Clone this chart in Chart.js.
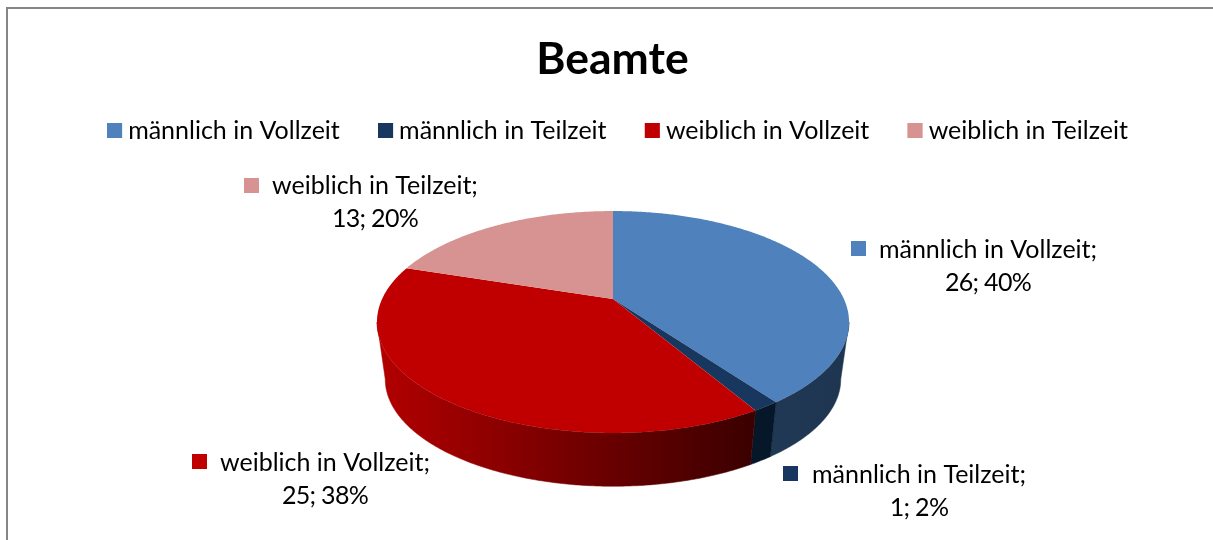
<!DOCTYPE html>
<html>
<head>
<meta charset="utf-8">
<title>Beamte</title>
<script src="https://cdn.jsdelivr.net/npm/chart.js@4"></script>
<style>
html,body{margin:0;padding:0;background:#fff;overflow:hidden}
canvas{display:block}
</style>
</head>
<body>
<canvas id="pie" width="1213" height="540"></canvas>
<script>
const categories = ["männlich in Vollzeit","männlich in Teilzeit","weiblich in Vollzeit","weiblich in Teilzeit"];
const values = [26,1,25,13];
const percents = ["40%","2%","38%","20%"];
const colors = ["#4f81bd","#17375e","#c00000","#d69391"];

// Seitenwand: Farbe links / rechts
const wallLeft = ["#24405f","#06172a","#b00000","#785050"];
const wallRight = ["#1e3550","#06172a","#3c0000","#785050"];

// Beschriftung: Quadrat links, Textmitte, y der ersten Zeile
const labelPos = [
  {key:851,keyY:241,cx:988,y:250},
  {key:783,keyY:466,cx:919,y:475},
  {key:192,keyY:454,cx:325,y:463},
  {key:244,keyY:178,cx:375,y:186}
];

const FONT = "Lato";
const LABEL_SIZE = 25;

// Perspektive der Scheibe
const cx = 613, cy = 299;
const A = 106.2, B = 230.9, K = 0.2072;
const DEPTH = 58, SHRINK = 0.965;
const FRONT_FROM = 102*Math.PI/180, FRONT_TO = 258*Math.PI/180;

function top3d(t){
  let u = Math.sin(t), d = -Math.cos(t), w = 1 - K*d;
  return [cx + B*u/w, cy + A*d/w];
}
function bottom3d(t){
  let p = top3d(t);
  return [cx + (p[0]-cx)*SHRINK, cy + (p[1]-cy)*SHRINK + DEPTH];
}

const pie3d = {
  id:"pie3d",
  afterLayout(chart){
    // Titel und Legende sitzen im Original nicht auf der Mitte
    chart.titleBlock.left += 6;
    chart.titleBlock.right += 6;
    chart.legend.left += 11;
    chart.legend.right += 11;
    chart.legend.top = 79.7;
  },
  beforeDatasetDraw(chart){
    const ctx = chart.ctx;
    const arcs = chart.getDatasetMeta(0).data;
    const step = Math.PI/360;

    // Seitenwände, nur die sichtbare Vorderseite
    arcs.forEach((arc,i)=>{
      let a0 = Math.max(arc.startAngle + Math.PI/2, FRONT_FROM);
      let a1 = Math.min(arc.endAngle + Math.PI/2, FRONT_TO);
      if(a1<=a0) return;
      let g = ctx.createLinearGradient(i==2?385:613,0,i==2?750:849,0);
      g.addColorStop(0,wallLeft[i]);
      g.addColorStop(1,wallRight[i]);
      ctx.fillStyle = g;
      ctx.strokeStyle = g;
      ctx.lineWidth = 0.5;
      ctx.beginPath();
      let pts = [];
      for(let t=a0;t<a1;t+=step) pts.push(top3d(t));
      pts.push(top3d(a1));
      pts.push(bottom3d(a1));
      for(let t=a1-step;t>a0;t-=step) pts.push(bottom3d(t));
      pts.push(bottom3d(a0));
      pts.forEach((p,n)=>{ if(n==0) ctx.moveTo(p[0],p[1]); else ctx.lineTo(p[0],p[1]); });
      ctx.closePath();
      ctx.fill();
      ctx.stroke();
    });

    // Oberseite
    arcs.forEach((arc,i)=>{
      let a0 = arc.startAngle + Math.PI/2, a1 = arc.endAngle + Math.PI/2;
      ctx.fillStyle = colors[i];
      ctx.beginPath();
      ctx.moveTo(cx,cy);
      for(let t=a0;t<a1;t+=step){
        let p = top3d(t);
        ctx.lineTo(p[0],p[1]);
      }
      let p = top3d(a1);
      ctx.lineTo(p[0],p[1]);
      ctx.closePath();
      ctx.fill();
    });
    return false;
  },
  afterDraw(chart){
    const ctx = chart.ctx;

    // Rahmen
    ctx.fillStyle = "#868686";
    ctx.fillRect(6,7,1207,2);
    ctx.fillRect(6,7,2,533);

    // Legenden-Quadrate
    chart.legend.legendHitBoxes.forEach((h,i)=>{
      ctx.fillStyle = colors[i];
      ctx.fillRect(h.left,123,15,15);
    });

    // Beschriftung
    ctx.font = LABEL_SIZE+"px "+FONT;
    ctx.textAlign = "center";
    ctx.textBaseline = "middle";
    labelPos.forEach((l,i)=>{
      ctx.fillStyle = colors[i];
      ctx.fillRect(l.key,l.keyY,15,15);
      ctx.fillStyle = "#000";
      ctx.letterSpacing = "0px";
      ctx.fillText(categories[i]+";",l.cx,l.y);
      ctx.letterSpacing = "-0.7px";
      ctx.fillText(values[i]+"; "+percents[i],l.cx,l.y+32.5);
    });
    ctx.letterSpacing = "0px";
  }
};

new Chart(document.getElementById("pie"),{
  type:"pie",
  data:{
    labels:categories,
    datasets:[{data:values,backgroundColor:colors,borderWidth:0}]
  },
  options:{
    responsive:false,
    animation:false,
    events:[],
    layout:{padding:{top:32.5,left:0,right:0,bottom:0}},
    plugins:{
      tooltip:{enabled:false},
      title:{
        display:true,
        text:"Beamte",
        color:"#000",
        font:{family:FONT,size:44.5,weight:"bold"},
        padding:{top:0,bottom:10}
      },
      legend:{
        position:"top",
        labels:{
          color:"#000",
          boxWidth:8.5,
          boxHeight:15,
          padding:38.3,
          font:{family:FONT,size:LABEL_SIZE}
        }
      }
    }
  },
  plugins:[pie3d]
});
</script>
</body>
</html>
